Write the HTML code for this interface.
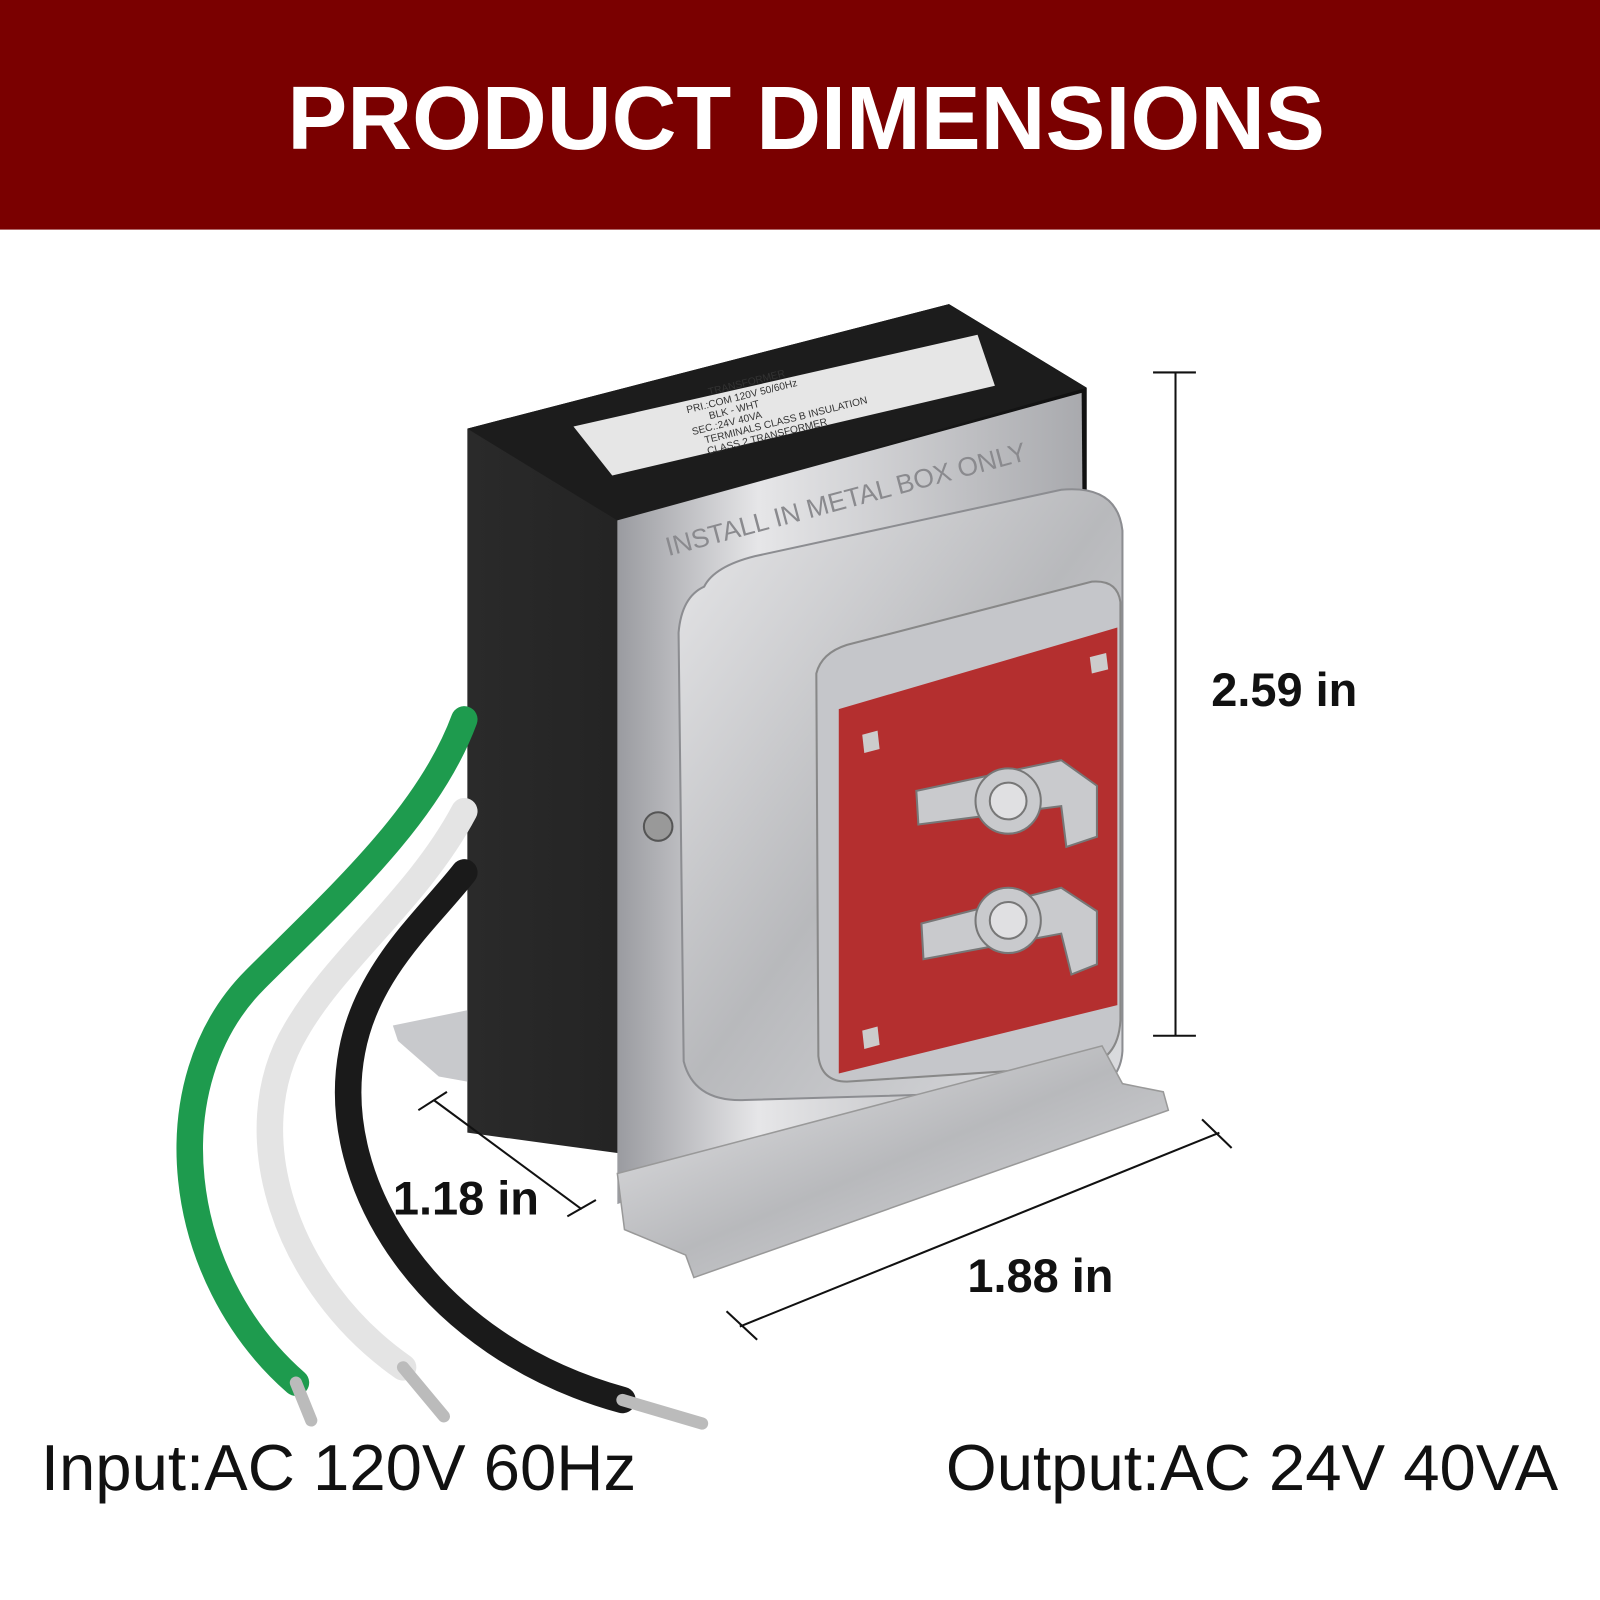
<!DOCTYPE html>
<html><head><meta charset="utf-8"><style>
html,body{margin:0;padding:0;background:#fff;width:1600px;height:1600px;overflow:hidden}
svg{display:block}
</style></head><body>
<svg width="1600" height="1600" viewBox="0 0 1568 1568" xmlns="http://www.w3.org/2000/svg">
<defs>
<linearGradient id="sil" x1="0" y1="0" x2="1" y2="1">
<stop offset="0" stop-color="#e8e8ea"/><stop offset="0.5" stop-color="#b8b9bc"/><stop offset="1" stop-color="#dcdde0"/></linearGradient>
<linearGradient id="sil2" x1="0" y1="0" x2="1" y2="0">
<stop offset="0" stop-color="#9a9ba0"/><stop offset="0.3" stop-color="#e6e6e8"/><stop offset="1" stop-color="#a8a9ad"/></linearGradient>
<linearGradient id="blk" x1="0" y1="0" x2="1" y2="0">
<stop offset="0" stop-color="#2a2a2a"/><stop offset="1" stop-color="#111"/></linearGradient>
</defs>
<rect x="0" y="0" width="1568" height="225" fill="#7a0000"/>
<text x="790" y="146" text-anchor="middle" font-family="Liberation Sans, sans-serif" font-weight="bold" font-size="88" fill="#fff">PRODUCT DIMENSIONS</text>

<polygon points="458,420 930,298 1065,380 1065,1000 605,1130 458,1110" fill="url(#blk)"/>
<polygon points="458,420 930,298 1065,380 605,510" fill="#1c1c1c"/>
<polygon points="562,418 958,328 975,378 600,466" fill="#e6e6e6"/>
<g font-family="Liberation Sans, sans-serif" font-size="10" fill="#333" transform="rotate(-14 760 400)">
<text x="700" y="372">TRANSFORMER</text><text x="675" y="384">PRI.:COM 120V 50/60Hz</text>
<text x="695" y="395">BLK - WHT</text><text x="675" y="406">SEC.:24V 40VA</text>
<text x="685" y="417">TERMINALS CLASS B INSULATION</text><text x="685" y="428">CLASS 2 TRANSFORMER</text></g>
<polygon points="385,1005 458,990 458,1060 430,1055 390,1020" fill="#c8c9cc"/>
<polygon points="605,510 1060,385 1065,1010 605,1180" fill="url(#sil2)"/>
<text x="655" y="545" font-family="Liberation Sans, sans-serif" font-size="26" fill="#8a8a8e" transform="rotate(-15 655 545)">INSTALL IN METAL BOX ONLY</text>
<path d="M690,575 Q700,555 740,545 L1040,480 Q1095,475 1100,520 L1100,1030 Q1098,1060 1070,1068 L730,1078 Q680,1080 670,1040 L665,620 Q668,585 690,575Z" fill="url(#sil)" stroke="#8c8d91" stroke-width="2"/>
<path d="M800,660 Q805,640 830,632 L1070,570 Q1095,568 1098,590 L1098,1000 Q1096,1040 1060,1045 L830,1060 Q805,1060 802,1035Z" fill="#c5c6ca" stroke="#888" stroke-width="2"/>
<polygon points="822,695 1095,615 1095,985 822,1052" fill="#b42f2f"/>
<polygon points="845,720 860,716 862,734 847,738" fill="#ccc"/>
<polygon points="1068,644 1084,640 1086,656 1070,660" fill="#ccc"/>
<polygon points="845,1010 860,1006 862,1024 847,1028" fill="#ccc"/>
<g fill="#c9cacd" stroke="#777" stroke-width="2">
<polygon points="898,775 1040,745 1075,770 1075,820 1045,830 1040,790 900,808"/>
<circle cx="988" cy="785" r="32"/><circle cx="988" cy="785" r="18" fill="#e0e0e2"/>
<polygon points="903,905 1040,870 1075,893 1075,945 1050,955 1040,915 905,940"/>
<circle cx="988" cy="902" r="32"/><circle cx="988" cy="902" r="18" fill="#e0e0e2"/>
</g>
<circle cx="645" cy="810" r="14" fill="#999" stroke="#555" stroke-width="2"/>
<polygon points="605,1150 1080,1025 1100,1062 1140,1070 1145,1088 680,1252 672,1230 612,1205" fill="url(#sil)" stroke="#999" stroke-width="1.5"/>
<g fill="none" stroke-linecap="round">
<path d="M455,705 C420,800 330,880 250,960 C150,1060 170,1250 290,1355" stroke="#1e9b4e" stroke-width="26"/>
<path d="M290,1355 L305,1392" stroke="#bbb" stroke-width="12"/>
<path d="M455,795 C410,880 330,940 290,1010 C230,1110 280,1260 395,1340" stroke="#e4e4e4" stroke-width="26"/>
<path d="M395,1340 L435,1388" stroke="#bbb" stroke-width="12"/>
<path d="M455,855 C420,900 360,950 345,1030 C320,1160 420,1320 610,1372" stroke="#1a1a1a" stroke-width="26"/>
<path d="M610,1372 L688,1395" stroke="#bbb" stroke-width="12"/>
</g>
<g stroke="#111" stroke-width="2">
<line x1="1152" y1="365" x2="1152" y2="1015"/><line x1="1130" y1="365" x2="1172" y2="365"/><line x1="1130" y1="1015" x2="1172" y2="1015"/>
<line x1="425" y1="1078" x2="570" y2="1185"/><line x1="410" y1="1088" x2="438" y2="1070"/><line x1="556" y1="1192" x2="584" y2="1176"/>
<line x1="725" y1="1300" x2="1195" y2="1110"/><line x1="712" y1="1285" x2="742" y2="1313"/><line x1="1178" y1="1097" x2="1207" y2="1125"/>
</g>
<g font-family="Liberation Sans, sans-serif" font-weight="bold" font-size="46" fill="#111">
<text x="1187" y="692">2.59 in</text><text x="385" y="1190">1.18 in</text><text x="948" y="1266">1.88 in</text></g>
<g font-family="Liberation Sans, sans-serif" font-size="64" fill="#111">
<text x="40" y="1460">Input:AC 120V 60Hz</text><text x="927" y="1460">Output:AC 24V 40VA</text></g>
</svg>
</body></html>
